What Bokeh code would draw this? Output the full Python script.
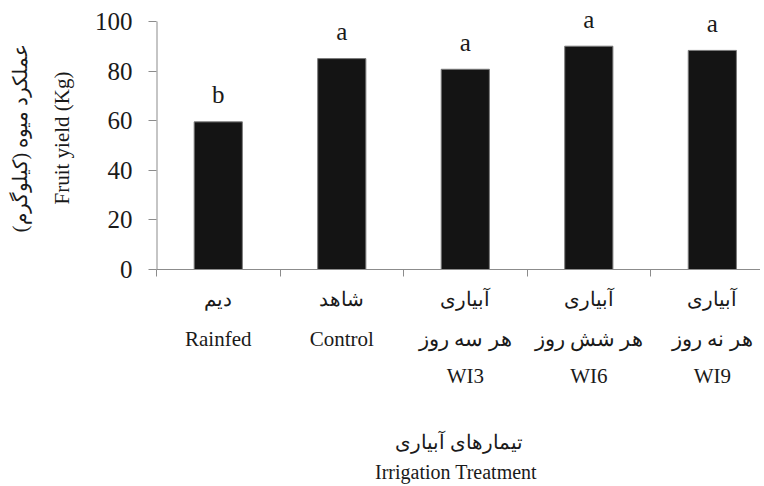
from bokeh.plotting import figure
from bokeh.models import LinearAxis, FixedTicker
from bokeh.embed import file_html
from bokeh.resources import INLINE
from bokeh.core.properties import value

# ---- data ----
categories = ["Rainfed", "Control", "WI3", "WI6", "WI9"]
positions = [1, 2, 3, 4, 5]
yields = [59.5, 85.0, 80.7, 90.0, 88.3]
letters = ["b", "a", "a", "a", "a"]
label_line1 = ["دیم", "شاهد", "آبیاری", "آبیاری", "آبیاری"]
label_line2 = ["Rainfed", "Control", "هر سه روز", "هر شش روز", "هر نه روز"]
label_line3 = ["", "", "WI3", "WI6", "WI9"]
boundaries = [0.5, 1.5, 2.5, 3.5, 4.5, 5.5]
y_ticks = [0, 20, 40, 60, 80, 100]
y_tick_labels = ["0", "20", "40", "60", "80", "100"]
y_title_en = "Fruit yield (Kg)"
y_title_fa = "عملکرد میوه (کیلوگرم)"
x_title_fa = "تیمارهای آبیاری"
x_title_en = "Irrigation  Treatment"

FONT = "Liberation Serif"
TXT = "#1a1a1a"
AX = "#8c8c8c"

x_start = boundaries[0]
p = figure(width=760, height=485, x_range=(x_start, 5.39), y_range=(0, 106),
           output_backend="svg", toolbar_location=None,
           x_axis_location=None, y_axis_location=None,
           min_border_top=6, min_border_right=0, min_border_left=156)
p.grid.visible = False
p.outline_line_color = None
p.background_fill_color = "white"
p.border_fill_color = "white"

p.vbar(x=positions, top=yields, width=0.39, fill_color="#141414",
       line_color="#7a7a7a", line_width=1)
p.text(x=positions, y=yields, text=letters, text_align="center",
       text_baseline="middle", y_offset=-27, text_font=value(FONT),
       text_font_size="25px", text_color=TXT)

# y axis line (only from 0 to 100)
p.segment(x0=[x_start], y0=[y_ticks[0]], x1=[x_start], y1=[y_ticks[-1]],
          line_color=AX, line_width=2)

def style_axis(ax, size="21px", font=FONT):
    ax.major_label_text_font = font
    ax.major_label_text_font_size = size
    ax.major_label_text_color = TXT
    ax.axis_label_text_font = font
    ax.axis_label_text_font_style = "normal"
    ax.axis_label_text_color = TXT

# y axis
yax = LinearAxis(ticker=FixedTicker(ticks=y_ticks))
style_axis(yax, "25px")
yax.axis_line_color = None
yax.major_tick_line_color = AX
yax.major_tick_out = 8
yax.major_tick_in = 0
yax.minor_tick_line_color = None
yax.major_label_standoff = 16
yax.major_label_overrides = {k: v for k, v in zip(y_ticks, y_tick_labels)}
yax.axis_label = y_title_en
yax.axis_label_text_font_size = "21px"
yax.axis_label_standoff = 18
p.add_layout(yax, "left")

yax2 = LinearAxis(ticker=FixedTicker(ticks=[]))
style_axis(yax2)
yax2.axis_line_color = None
yax2.major_tick_line_color = None
yax2.minor_tick_line_color = None
yax2.axis_label = y_title_fa
yax2.axis_label_text_font_size = "20px"
yax2.axis_label_standoff = 16
p.add_layout(yax2, "left")

# x axis row 1 (with boundary ticks)
xax1 = LinearAxis(ticker=FixedTicker(ticks=positions, minor_ticks=boundaries))
style_axis(xax1, "20px")
xax1.axis_line_color = AX
xax1.major_tick_line_color = None
xax1.major_tick_out = 0
xax1.major_tick_in = 0
xax1.minor_tick_line_color = AX
xax1.minor_tick_out = 7
xax1.minor_tick_in = 0
xax1.major_label_standoff = 11
xax1.major_label_overrides = {k: v for k, v in zip(positions, label_line1)}
p.add_layout(xax1, "below")

def blank_row(labels, standoff, size="21px"):
    ax = LinearAxis(ticker=FixedTicker(ticks=positions))
    style_axis(ax, size)
    ax.axis_line_color = None
    ax.major_tick_line_color = None
    ax.minor_tick_line_color = None
    ax.major_tick_out = 0
    ax.major_tick_in = 0
    ax.major_label_standoff = standoff
    ax.major_label_overrides = {k: v for k, v in zip(positions, labels)}
    p.add_layout(ax, "below")
    return ax

blank_row(label_line2, 14)
blank_row(label_line3, 10)

xt1 = LinearAxis(ticker=FixedTicker(ticks=[]))
style_axis(xt1)
xt1.axis_line_color = None
xt1.major_tick_line_color = None
xt1.minor_tick_line_color = None
xt1.axis_label = x_title_fa
xt1.axis_label_text_font_size = "20px"
xt1.axis_label_standoff = 40
p.add_layout(xt1, "below")

xt2 = LinearAxis(ticker=FixedTicker(ticks=[]))
style_axis(xt2)
xt2.axis_line_color = None
xt2.major_tick_line_color = None
xt2.minor_tick_line_color = None
xt2.axis_label = x_title_en
xt2.axis_label_text_font_size = "20px"
xt2.axis_label_standoff = 5
p.add_layout(xt2, "below")

open("out.html", "w").write(file_html(p, INLINE))
